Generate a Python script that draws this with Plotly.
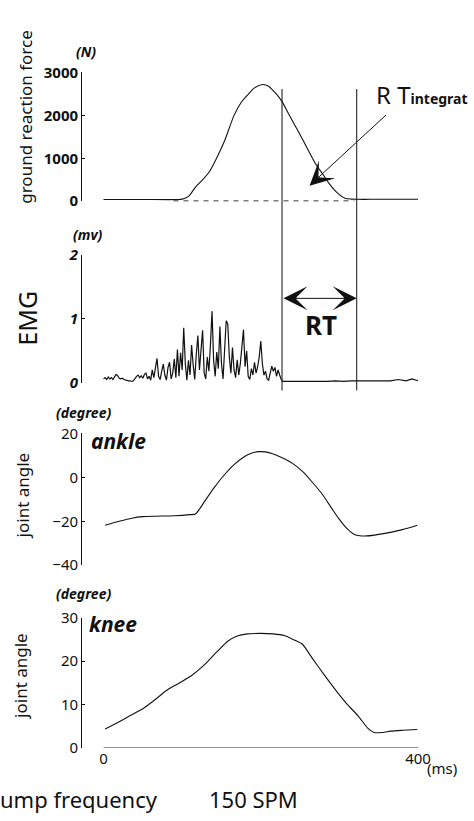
import plotly.graph_objects as go

# ---------------- data ----------------
# ground reaction force (N) vs time (ms)
GRF_T = [0, 50, 95, 100, 105, 110, 117, 125, 135, 145, 154, 166, 175, 183, 192, 202,
         210, 216, 222, 227, 235, 243, 250, 260, 270, 280, 287, 297, 307, 315, 322,
         340, 370, 400]
GRF_N = [40, 40, 40, 50, 80, 150, 330, 480, 700, 1050, 1410, 2000, 2300, 2470, 2640, 2720,
         2680, 2570, 2450, 2320, 2050, 1780, 1550, 1200, 860, 600, 410, 200, 70, 50, 45,
         45, 45, 45]

# EMG (mV) vs time (ms)
EMG_T = [0, 2, 4, 6, 8, 10, 12, 14, 16, 18, 20, 22, 24, 26, 28, 30, 32, 34, 36, 38,
         40, 42, 44, 46, 48, 50, 52, 54, 56, 58, 60, 62, 64, 66, 68, 70, 72, 74, 76, 78,
         80, 82, 84, 86, 88, 90, 92, 94, 96, 98, 100, 102, 104, 106, 108, 110, 112, 114,
         116, 118, 120, 122, 124, 126, 128, 130, 132, 134, 136, 138, 140, 142, 144, 146,
         148, 150, 152, 154, 156, 158, 160, 162, 164, 166, 168, 170, 172, 174, 176, 178,
         180, 182, 184, 186, 188, 190, 192, 194, 196, 198, 200, 202, 204, 206, 208, 210,
         212, 214, 216, 218, 220, 222, 224, 226, 228,
         235, 245, 255, 265, 275, 285, 295, 305, 315, 325, 335, 345, 355, 365, 375, 385,
         392, 400]
EMG_MV = [0.06, 0.08, 0.05, 0.09, 0.06, 0.08, 0.05, 0.10, 0.13, 0.11, 0.07, 0.06, 0.07,
          0.05, 0.04, 0.04, 0.03, 0.03, 0.02, 0.03,
          0.07, 0.10, 0.12, 0.08, 0.11, 0.07, 0.13, 0.15, 0.06, 0.10, 0.04, 0.20, 0.08,
          0.22, 0.38, 0.10, 0.05, 0.18, 0.29, 0.12,
          0.04, 0.24, 0.32, 0.06, 0.15, 0.37, 0.08, 0.52, 0.10, 0.47, 0.20, 0.86, 0.30,
          0.04, 0.35, 0.12, 0.59, 0.28,
          0.05, 0.45, 0.74, 0.20, 0.55, 0.82, 0.15, 0.06, 0.40, 0.18, 0.60, 1.12, 0.35,
          0.10, 0.48, 0.22,
          0.88, 0.30, 0.06, 0.55, 0.97, 0.92, 0.40, 0.15, 0.55, 0.20, 0.08, 0.36, 0.12,
          0.30, 0.60, 0.83,
          0.25, 0.50, 0.10, 0.05, 0.22, 0.12, 0.32, 0.15, 0.25, 0.40, 0.65, 0.30, 0.12,
          0.18, 0.06, 0.04,
          0.15, 0.26, 0.18, 0.24, 0.10, 0.20, 0.12, 0.05, 0.02,
          0.02, 0.01, 0.02, 0.02, 0.01, 0.02, 0.03, 0.02, 0.03, 0.03, 0.04, 0.03, 0.04,
          0.03, 0.05, 0.03, 0.06, 0.03]

# ankle joint angle (degree)
ANKLE_T = [2, 20, 36, 50, 67, 90, 110, 117, 122, 129, 140, 154, 166, 178, 188, 198, 206,
           215, 225, 240, 253, 265, 278, 290, 299, 310, 319, 326, 332, 345, 361, 380, 399]
ANKLE_DEG = [-21.8, -20.0, -18.6, -17.9, -17.7, -17.5, -17.0, -16.7, -14.5, -10.7, -5.0,
             1.3, 5.8, 9.2, 11.0, 11.7, 11.6, 10.8, 9.3, 6.5, 2.7, -2.0, -7.6, -14.0,
             -18.7, -23.5, -26.0, -26.6, -26.7, -26.3, -25.3, -23.8, -21.8]

# knee joint angle (degree)
KNEE_T = [2, 20, 34, 51, 65, 80, 97, 113, 125, 133, 145, 158, 170, 183, 200, 216, 230,
          241, 253, 266, 280, 294, 310, 324, 336, 344, 355, 365, 380, 399]
KNEE_DEG = [4.3, 6.0, 7.4, 9.1, 11.0, 13.2, 15.0, 16.8, 18.6, 20.0, 22.3, 24.6, 25.8,
            26.3, 26.4, 26.3, 25.9, 25.0, 23.9, 20.5, 17.0, 13.6, 10.0, 7.3, 4.5, 3.5,
            3.5, 3.8, 4.0, 4.2]

# reaction time window (ms) and the level of the RT arrow (mV)
RT_BOUNDS = [227, 322]
RT_ARROW_MV = 1.32
RT_INT_POINT = [262, 364]   # (ms, N) point the RT-integrated arrow aims at

GRF_TICKS = [0, 1000, 2000, 3000]
EMG_TICKS = [0, 1, 2]
ANKLE_TICKS = [-40, -20, 0, 20]
KNEE_TICKS = [0, 10, 20, 30]
TIME_TICKS = [0, 400]

# ---------------- layout helpers ----------------
W, H = 474, 821
FONT = "Noto Sans"
INK = "#111111"


def fx(px):
    return px / W


def fy(py):
    return 1 - py / H


def ydom(top, bottom):
    return [fy(bottom), fy(top)]


fig = go.Figure()
smooth = dict(color=INK, width=1.1, shape="spline", smoothing=0.6)
fig.add_trace(go.Scatter(x=GRF_T, y=GRF_N, mode="lines", line=smooth, xaxis="x", yaxis="y"))
fig.add_trace(go.Scatter(x=EMG_T, y=EMG_MV, mode="lines", line=dict(color=INK, width=1.2),
                         xaxis="x", yaxis="y2"))
fig.add_trace(go.Scatter(x=ANKLE_T, y=ANKLE_DEG, mode="lines", line=smooth, xaxis="x", yaxis="y3"))
fig.add_trace(go.Scatter(x=KNEE_T, y=KNEE_DEG, mode="lines", line=smooth, xaxis="x", yaxis="y4"))

yax_common = dict(showline=True, linecolor=INK, linewidth=1, ticks="inside", ticklen=3,
                  tickcolor=INK, showgrid=False, zeroline=False, anchor="x", fixedrange=True)

shapes = []
for t in RT_BOUNDS:
    shapes.append(dict(type="line", xref="x", yref="paper", x0=t, x1=t, y0=fy(389), y1=fy(80),
                       line=dict(color=INK, width=1)))
# zero reference under the force curve
shapes.append(dict(type="line", xref="x", yref="y", x0=89, x1=319, y0=0, y1=0,
                   line=dict(color="black", width=1.5, dash="5px,5px")))
# time axis line
shapes.append(dict(type="line", xref="x", yref="y4", x0=TIME_TICKS[0], x1=TIME_TICKS[-1], y0=0, y1=0,
                   line=dict(color=INK, width=1)))


def label(x, y, text, size, angle=0, xanchor="center", weight="normal", style="normal"):
    return dict(x=fx(x), y=fy(y), xref="paper", yref="paper", text=text, showarrow=False,
                textangle=angle, xanchor=xanchor, yanchor="middle",
                font=dict(family=FONT, size=size, color=INK, weight=weight, style=style))


annotations = [
    label(26, 108, "ground reaction force", 17, angle=-90),
    label(28, 315, "EMG", 25, angle=-90),
    label(23, 496, "joint angle", 17, angle=-90),
    label(21, 682, "joint angle", 17, angle=-90),
    label(88, 42, "(N)", 14, weight="bold", style="italic"),
    label(90, 229, "(mv)", 14, weight="bold", style="italic"),
    label(85, 412, "(degree)", 14, weight="bold", style="italic"),
    label(85, 597, "(degree)", 14, weight="bold", style="italic"),
    label(91, 441, "ankle", 21, xanchor="left", weight="bold", style="italic"),
    label(89, 628, "knee", 21, xanchor="left", weight="bold", style="italic"),
    label(453, 776, "(ms)", 15),
    label(329, 322, "RT", 26, weight="bold"),
    label(383, 86, "R T<span style='font-size:14px;font-weight:bold'>integrat</span>", 24,
          xanchor="left"),
    label(-2, 808, "ump frequency", 22, xanchor="left"),
    label(212, 808, "150 SPM", 22, xanchor="left"),
    # arrow pointing at the integrated force area
    dict(x=RT_INT_POINT[0], y=RT_INT_POINT[1], xref="x", yref="y", text="", showarrow=True,
         ax=78, ay=-72, arrowhead=3, arrowsize=4, arrowwidth=1, arrowcolor=INK),
    # double arrow spanning the RT window
    dict(x=RT_BOUNDS[1], y=RT_ARROW_MV, xref="x", yref="y2", text="", showarrow=True,
         ax=RT_BOUNDS[0], ay=RT_ARROW_MV, axref="x", ayref="y2", arrowhead=3, startarrowhead=3,
         arrowside="end+start", arrowsize=4, startarrowsize=4, arrowwidth=1, arrowcolor=INK),
]

fig.update_layout(
    width=W, height=H, margin=dict(l=0, r=0, t=0, b=0),
    paper_bgcolor="white", plot_bgcolor="white", showlegend=False,
    font=dict(family=FONT, color=INK),
    xaxis=dict(domain=[fx(84), fx(430)], range=[-27.3, 402.5], anchor="y4",
               showline=False, showgrid=False, zeroline=False, ticks="",
               tickvals=TIME_TICKS, ticktext=[str(v) for v in TIME_TICKS],
               tickfont=dict(family=FONT, size=15, color=INK), fixedrange=True),
    yaxis=dict(yax_common, domain=ydom(63, 195), range=[0, 3000], tickvals=GRF_TICKS,
               tickfont=dict(family=FONT, size=15, color=INK, weight="bold")),
    yaxis2=dict(yax_common, domain=ydom(250, 381), range=[0, 2], tickvals=EMG_TICKS,
                tickfont=dict(family=FONT, size=15, color=INK, weight="bold", style="italic")),
    yaxis3=dict(yax_common, domain=ydom(433, 568), range=[-40, 20], tickvals=ANKLE_TICKS,
                tickfont=dict(family=FONT, size=15, color=INK)),
    yaxis4=dict(yax_common, domain=ydom(622, 755), range=[0, 30], tickvals=KNEE_TICKS,
                tickfont=dict(family=FONT, size=15, color=INK)),
    shapes=shapes,
    annotations=annotations,
)

fig.write_html("out.html")
